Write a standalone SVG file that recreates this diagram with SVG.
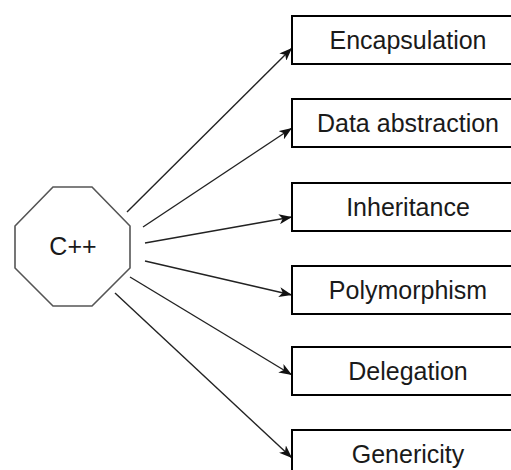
<svg xmlns="http://www.w3.org/2000/svg" width="511" height="470" viewBox="0 0 511 470">
  <style>
    .box { fill: #ffffff; stroke: #000000; stroke-width: 2; }
    .oct { fill: #ffffff; stroke: #555555; stroke-width: 1.6; }
    .lbl { font-family: "Liberation Sans", Arial, sans-serif; font-size: 25px; fill: #1a1a1a; text-anchor: middle; }
    .edge { stroke: #222222; stroke-width: 1.4; fill: none; marker-end: url(#arrow); }
  </style>
  <defs>
    <marker id="arrow" markerUnits="userSpaceOnUse" markerWidth="14" markerHeight="10" refX="13" refY="5" orient="auto">
      <path d="M0,0 L13,5 L0,10 L3.5,5 Z" fill="#111111"/>
    </marker>
  </defs>
  <rect width="511" height="470" fill="#ffffff"/>

  <g id="connectors">
    <line class="edge" x1="127" y1="212" x2="292" y2="48"/>
    <line class="edge" x1="143" y1="227" x2="292" y2="128"/>
    <line class="edge" x1="145" y1="243" x2="292" y2="217"/>
    <line class="edge" x1="145" y1="261" x2="292" y2="295"/>
    <line class="edge" x1="130" y1="277" x2="292" y2="375"/>
    <line class="edge" x1="115" y1="293" x2="292" y2="458"/>
  </g>

  <g id="cpp">
    <polygon class="oct" points="53,187 92,187 130,226 130,268 92,306 53,306 15,268 15,226"/>
    <text class="lbl" x="73" y="255">C++</text>
  </g>

  <g id="encapsulation">
    <rect class="box" x="292" y="16" width="232" height="48"/>
    <text class="lbl" x="408" y="49">Encapsulation</text>
  </g>
  <g id="data-abstraction">
    <rect class="box" x="292" y="99" width="232" height="48"/>
    <text class="lbl" x="408" y="132">Data abstraction</text>
  </g>
  <g id="inheritance">
    <rect class="box" x="292" y="183" width="232" height="48"/>
    <text class="lbl" x="408" y="216">Inheritance</text>
  </g>
  <g id="polymorphism">
    <rect class="box" x="292" y="266" width="232" height="48"/>
    <text class="lbl" x="408" y="299">Polymorphism</text>
  </g>
  <g id="delegation">
    <rect class="box" x="292" y="347" width="232" height="48"/>
    <text class="lbl" x="408" y="380">Delegation</text>
  </g>
  <g id="genericity">
    <rect class="box" x="292" y="430" width="232" height="48"/>
    <text class="lbl" x="408" y="463">Genericity</text>
  </g>
</svg>
